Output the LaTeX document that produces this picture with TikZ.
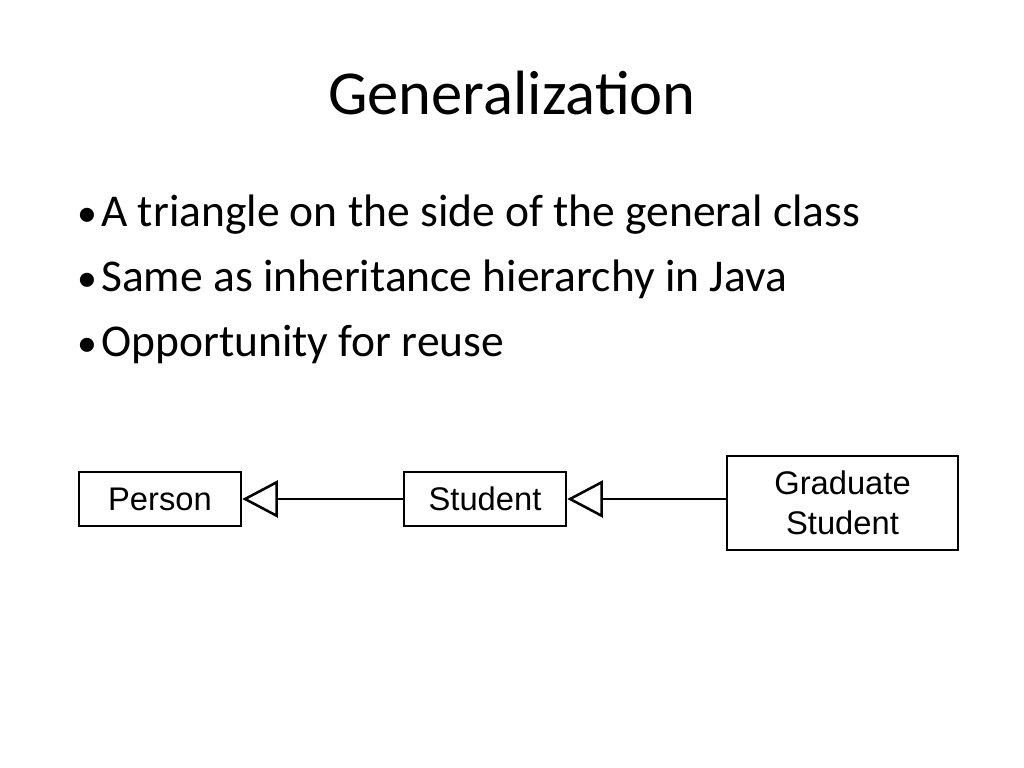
\documentclass[tikz,border=0pt]{standalone}
\usepackage{fontspec}
\setmainfont{Carlito}
\newfontfamily\arialfont{Liberation Sans}
\usetikzlibrary{arrows.meta}
\tikzset{
  cls/.style={draw=black, line width=1.8pt, fill=white, align=center, inner sep=0pt,
    font=\arialfont\fontsize{23}{28}\selectfont},
  gen/.style={line width=1.8pt, -{Triangle[open, length=25pt, width=26pt, fill=white]}},
  bul/.style={anchor=base west, inner sep=0pt, font=\fontsize{32}{38}\selectfont},
  dot/.style={anchor=base, inner sep=0pt, font=\fontsize{28}{34}\selectfont}
}
\begin{document}
\begin{tikzpicture}[x=0.703125pt, y=-0.703125pt]
\useasboundingbox[fill=white] (0,0) rectangle (1024,768);
\node[inner sep=0pt, anchor=base, font=\fontsize{44}{52}\selectfont] (title) at (512,115) {Generalization};
\node[dot] (d1) at (87,227) {•};
\node[bul] (b1) at (101,227) {A triangle on the side of the general class};
\node[dot] (d2) at (87,291) {•};
\node[bul] (b2) at (101,291) {Same as inheritance hierarchy in Java};
\node[dot] (d3) at (87,356) {•};
\node[bul] (b3) at (101,356) {Opportunity for reuse};
\node[cls, minimum width=113.9pt, minimum height=38pt] (person) at (160,499) {Person};
\node[cls, minimum width=113.9pt, minimum height=38pt] (student) at (485,499) {Student};
\node[cls, minimum width=162.4pt, minimum height=66.1pt] (grad) at (842.5,503) {Graduate\\Student};
\draw[gen] (student.west) -- (person.east);
\draw[gen] (grad.west |- student.east) -- (student.east);
\end{tikzpicture}
\end{document}
